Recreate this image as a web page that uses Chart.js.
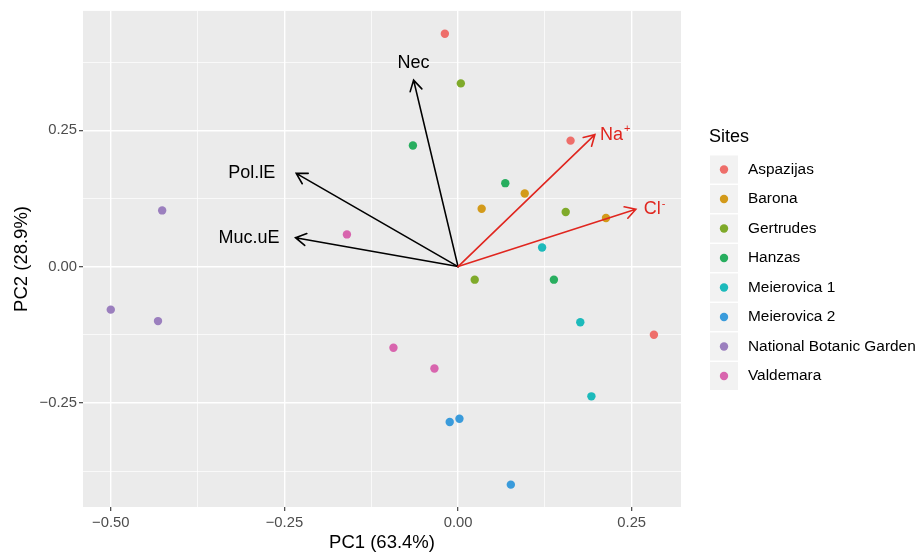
<!DOCTYPE html>
<html><head><meta charset="utf-8">
<script src="https://cdn.jsdelivr.net/npm/chart.js@4/dist/chart.umd.min.js"></script>
<style>html,body{margin:0;padding:0;background:#fff;}canvas{display:block}</style>
</head><body>
<canvas id="c" width="917" height="554"></canvas>
<script>
// ---- data ----
const sites = ['Aspazijas','Barona','Gertrudes','Hanzas','Meierovica 1','Meierovica 2','National Botanic Garden','Valdemara'];
const aspazijasPC1 = [-0.019, 0.162, 0.282];
const aspazijasPC2 = [0.427, 0.231, -0.125];
const baronaPC1 = [0.034, 0.096, 0.213];
const baronaPC2 = [0.106, 0.134, 0.089];
const gertrudesPC1 = [0.004, 0.155, 0.024];
const gertrudesPC2 = [0.336, 0.100, -0.024];
const hanzasPC1 = [-0.065, 0.068, 0.138];
const hanzasPC2 = [0.222, 0.153, -0.024];
const meierovica1PC1 = [0.121, 0.176, 0.192];
const meierovica1PC2 = [0.035, -0.102, -0.238];
const meierovica2PC1 = [-0.012, 0.002, 0.076];
const meierovica2PC2 = [-0.285, -0.279, -0.400];
const nbgPC1 = [-0.426, -0.500, -0.432];
const nbgPC2 = [0.103, -0.079, -0.100];
const valdemaraPC1 = [-0.160, -0.093, -0.034];
const valdemaraPC2 = [0.059, -0.149, -0.187];

const loadingNames = ['Nec','Pol.lE','Muc.uE','Na⁺','Cl⁻'];
const loadingPC1 = [-0.064, -0.233, -0.234, 0.197, 0.256];
const loadingPC2 = [0.342, 0.171, 0.053, 0.242, 0.105];

const xTickValues = [-0.5, -0.25, 0, 0.25];
const xTickLabels = ['−0.50', '−0.25', '0.00', '0.25'];
const xMinorValues = [-0.375, -0.125, 0.125];
const yTickValues = [-0.25, 0, 0.25];
const yTickLabels = ['−0.25', '0.00', '0.25'];
const yMinorValues = [-0.375, -0.125, 0.125, 0.375];

// ---- styles ----
const siteColors = ['#EE6E6A','#D39A1A','#7FAA2A','#28AE5F','#1CBABB','#3A9BDB','#9B7FBE','#D865AE'];
const loadingStyle = {
  'Nec':    {color:'#000000', align:'center', dx:0,   dy:-17},
  'Pol.lE': {color:'#000000', align:'right',  dx:-21, dy:0},
  'Muc.uE': {color:'#000000', align:'right',  dx:-16, dy:0},
  'Na⁺':    {color:'#E0261F', align:'left',   dx:5,   dy:0},
  'Cl⁻':    {color:'#E0261F', align:'left',   dx:8,   dy:0}
};
const FONT = '"Liberation Sans", Arial, Helvetica, sans-serif';

const pc1 = [aspazijasPC1, baronaPC1, gertrudesPC1, hanzasPC1, meierovica1PC1, meierovica2PC1, nbgPC1, valdemaraPC1];
const pc2 = [aspazijasPC2, baronaPC2, gertrudesPC2, hanzasPC2, meierovica1PC2, meierovica2PC2, nbgPC2, valdemaraPC2];

const datasets = sites.map((s, i) => ({
  label: s,
  data: pc1[i].map((x, j) => ({x: x, y: pc2[i][j]})),
  backgroundColor: siteColors[i],
  borderColor: siteColors[i],
  borderWidth: 0,
  pointRadius: 4.2,
  pointHoverRadius: 4.2
}));

const near = (a, b) => Math.abs(a - b) < 1e-6;
const isIn = (arr, v) => arr.some(a => near(a, v));

const panelBg = {
  id: 'panelBg',
  beforeDraw(chart) {
    const {ctx, chartArea: a} = chart;
    ctx.save();
    ctx.fillStyle = '#EBEBEB';
    ctx.fillRect(a.left, a.top, a.right - a.left, a.bottom - a.top);
    ctx.restore();
  }
};

function drawSupText(ctx, text, x, y, align, size) {
  const supMap = {'⁺':'+', '⁻':'-'};
  let base = text, sup = '';
  const last = text.slice(-1);
  if (supMap[last]) { base = text.slice(0, -1); sup = supMap[last]; }
  ctx.font = size + 'px ' + FONT;
  const wb = ctx.measureText(base).width;
  ctx.font = Math.round(size * 0.6) + 'px ' + FONT;
  const ws = sup ? ctx.measureText(sup).width + 1 : 0;
  const total = wb + ws;
  let x0 = x;
  if (align === 'center') x0 = x - total / 2;
  else if (align === 'right') x0 = x - total;
  ctx.textAlign = 'left';
  ctx.textBaseline = 'middle';
  ctx.font = size + 'px ' + FONT;
  ctx.fillText(base, x0, y);
  if (sup) {
    ctx.font = Math.round(size * 0.6) + 'px ' + FONT;
    ctx.fillText(sup, x0 + wb + 1, y - size * 0.3);
  }
}

const arrows = {
  id: 'arrows',
  afterDatasetsDraw(chart) {
    const {ctx, scales: {x, y}} = chart;
    const ox = x.getPixelForValue(0), oy = y.getPixelForValue(0);
    ctx.save();
    loadingNames.forEach((name, i) => {
      const st = loadingStyle[name];
      const tx = x.getPixelForValue(loadingPC1[i]), ty = y.getPixelForValue(loadingPC2[i]);
      ctx.strokeStyle = st.color;
      ctx.lineWidth = 1.6;
      ctx.lineCap = 'round';
      ctx.beginPath();
      ctx.moveTo(ox, oy);
      ctx.lineTo(tx, ty);
      const ang = Math.atan2(ty - oy, tx - ox);
      const L = 12, h = Math.PI / 6;
      ctx.moveTo(tx - L * Math.cos(ang - h), ty - L * Math.sin(ang - h));
      ctx.lineTo(tx, ty);
      ctx.lineTo(tx - L * Math.cos(ang + h), ty - L * Math.sin(ang + h));
      ctx.stroke();
      ctx.fillStyle = st.color;
      drawSupText(ctx, name, tx + st.dx, ty + st.dy, st.align, 18);
    });
    ctx.restore();
  }
};

const legendPlugin = {
  id: 'customLegend',
  afterDraw(chart) {
    const {ctx, chartArea: a} = chart;
    const left = a.right + 29;
    ctx.save();
    ctx.fillStyle = '#000';
    ctx.font = '18px ' + FONT;
    ctx.textAlign = 'left';
    ctx.textBaseline = 'middle';
    ctx.fillText('Sites', left - 1, 137);
    const top0 = 155.5, pitch = 29.5, key = 28;
    chart.data.datasets.forEach((ds, i) => {
      const ky = top0 + i * pitch;
      ctx.fillStyle = '#F2F2F2';
      ctx.fillRect(left, ky, key, key);
      ctx.fillStyle = ds.backgroundColor;
      ctx.beginPath();
      ctx.arc(left + key / 2, ky + key / 2, 4.2, 0, Math.PI * 2);
      ctx.fill();
      ctx.fillStyle = '#000';
      ctx.font = '15.4px ' + FONT;
      ctx.fillText(ds.label, left + 38, ky + key / 2);
    });
    ctx.restore();
  }
};

function axisCfg(min, max, majors, labels, minors, title, isX) {
  return {
    type: 'linear',
    min: min, max: max,
    afterBuildTicks: s => { s.ticks = majors.concat(minors).sort((p, q) => p - q).map(v => ({value: v})); },
    afterFit: s => { if (isX) s.height = 47; else s.width = 83; },
    border: {display: false},
    grid: {
      color: '#FFFFFF',
      lineWidth: c => (c.tick && isIn(majors, c.tick.value)) ? 1.4 : 0.7,
      tickColor: c => (c.tick && isIn(majors, c.tick.value)) ? '#333333' : 'rgba(0,0,0,0)',
      tickWidth: 1.1,
      tickLength: 4,
      drawTicks: true
    },
    ticks: {
      autoSkip: false, maxRotation: 0,
      color: '#4D4D4D',
      font: {size: 14.8, family: FONT},
      padding: isX ? 3 : 2,
      callback: (v) => { const k = majors.findIndex(m => near(m, v)); return k >= 0 ? labels[k] : ''; }
    },
    title: {
      display: true, text: title, color: '#000',
      font: {size: 18.5, family: FONT},
      padding: isX ? {top: 0, bottom: 0} : {top: 11, bottom: 0}
    }
  };
}

new Chart(document.getElementById('c'), {
  type: 'scatter',
  data: {datasets: datasets},
  options: {
    responsive: false,
    animation: false,
    layout: {padding: {left: 0, top: 10, right: 236, bottom: 0}},
    plugins: {legend: {display: false}, tooltip: {enabled: false}},
    scales: {
      x: axisCfg(-0.540, 0.321, xTickValues, xTickLabels, xMinorValues, 'PC1 (63.4%)', true),
      y: axisCfg(-0.441, 0.469, yTickValues, yTickLabels, yMinorValues, 'PC2 (28.9%)', false)
    }
  },
  plugins: [panelBg, arrows, legendPlugin]
});
</script>
</body></html>
